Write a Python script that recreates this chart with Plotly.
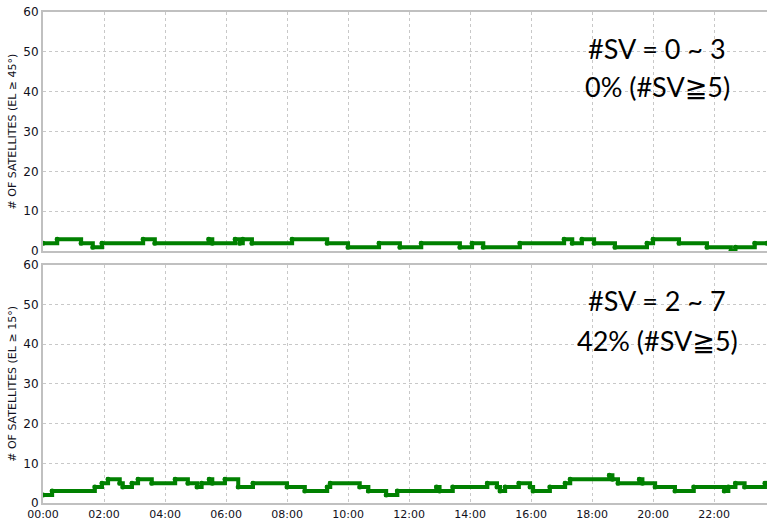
import plotly.graph_objects as go
from plotly.subplots import make_subplots

DAY = "2024-01-01 "

# Elevation >= 45 deg : change times and satellite counts (step series)
t45 = ["00:00", "00:28", "01:15", "01:38", "01:56", "03:17", "03:40", "05:26", "05:33",
       "06:18", "06:27", "06:33", "06:51", "08:10", "09:19", "10:00", "11:01", "11:42",
       "12:24", "13:40", "14:04", "14:26", "15:38", "17:05", "17:21", "17:40", "18:04",
       "18:45", "19:48", "20:00", "20:51", "21:46", "22:33", "22:42", "23:20", "23:44"]
sv45 = [2, 3, 2, 1, 2, 3, 2, 3, 2,
        3, 2, 3, 2, 3, 2, 1, 2, 1,
        2, 1, 2, 1, 2, 3, 2, 3, 2,
        1, 2, 3, 2, 1, 0, 1, 2, 2]

# Elevation >= 15 deg
t15 = ["00:00", "00:18", "01:42", "01:56", "02:08", "02:31", "02:37", "02:55", "03:07",
       "03:34", "04:20", "04:45", "05:03", "05:12", "05:27", "05:33", "05:58", "06:24",
       "06:53", "08:00", "08:35", "09:19", "09:25", "10:23", "10:40", "11:15", "11:37",
       "12:54", "13:00", "13:26", "14:34", "14:53", "14:59", "15:09", "15:36", "15:58",
       "16:04", "16:37", "17:07", "17:17", "18:34", "18:40", "18:51", "19:33", "19:39",
       "20:04", "20:43", "21:20", "22:20", "22:28", "22:42", "23:00", "23:40", "23:44"]
sv15 = [2, 3, 4, 5, 6, 5, 4, 5, 6,
        5, 6, 5, 4, 5, 6, 5, 6, 4,
        5, 4, 3, 4, 5, 4, 3, 2, 3,
        4, 3, 4, 5, 4, 3, 4, 5, 4,
        3, 4, 5, 6, 7, 6, 5, 6, 5,
        4, 3, 4, 3, 4, 5, 4, 5, 5]

x_ticks = ["00:00", "02:00", "04:00", "06:00", "08:00", "10:00",
           "12:00", "14:00", "16:00", "18:00", "20:00", "22:00"]
y_title_top = "# OF SATELLITES (EL \u2265 45\u00b0)"
y_title_bot = "# OF SATELLITES (EL \u2265 15\u00b0)"
ann_top = ["#SV = 0 ~ 3", "0% (#SV\u22675)"]
ann_bot = ["#SV = 2 ~ 7", "42% (#SV\u22675)"]

GREEN = "#008000"
GRID = "#c8c8c8"
TXT = "#101020"

fig = make_subplots(rows=2, cols=1, shared_xaxes=False, vertical_spacing=0.03)

for row, (tt, vv) in enumerate([(t45, sv45), (t15, sv15)], start=1):
    fig.add_trace(go.Scatter(
        x=[DAY + t for t in tt], y=vv, mode="lines+markers",
        line=dict(color=GREEN, width=4, shape="hv"),
        marker=dict(color=GREEN, size=5),
        showlegend=False, hoverinfo="skip"), row=row, col=1)

xr = [DAY + "00:00", DAY + "23:44"]
tickvals = [DAY + t for t in x_ticks]
for row in (1, 2):
    fig.update_xaxes(range=xr, tickvals=tickvals, ticktext=x_ticks,
                     showticklabels=(row == 2), automargin=False,
                     showgrid=True, gridcolor=GRID, griddash="3px,3px", gridwidth=1,
                     showline=True, linecolor="#c0c0c0", linewidth=2, mirror=True,
                     ticks="", zeroline=False,
                     tickfont=dict(family="DejaVu Sans", size=11, color=TXT),
                     row=row, col=1)
    fig.update_yaxes(range=[0, 60], dtick=10, automargin=False,
                     showgrid=True, gridcolor=GRID, griddash="3px,3px", gridwidth=1,
                     showline=True, linecolor="#c0c0c0", linewidth=2, mirror=True,
                     ticks="", zeroline=False,
                     tickfont=dict(family="DejaVu Sans", size=12, color=TXT),
                     title=dict(text=y_title_top if row == 1 else y_title_bot,
                                font=dict(family="DejaVu Sans", size=11, color=TXT),
                                standoff=4),
                     row=row, col=1)

fig.update_layout(
    width=767, height=521,
    margin=dict(l=43, r=0, t=12, b=18),
    paper_bgcolor="white", plot_bgcolor="white",
    xaxis=dict(domain=[0, 1]),
    yaxis=dict(domain=[0.513, 1.0]),
    yaxis2=dict(domain=[0.0, 0.485]),
)

H = 521 - 12 - 18
for lines, y0, y1 in [(ann_top, 48, 87), (ann_bot, 300, 340)]:
    for txt, yp in zip(lines, (y0, y1)):
        fig.add_annotation(text=txt, xref="paper", yref="paper",
                           x=(657 - 43) / 724, y=(521 - 18 - yp) / H,
                           showarrow=False, xanchor="center", yanchor="middle",
                           font=dict(family="Lato, DejaVu Sans", size=27, color="black"))

fig.write_html("out.html", config={"displayModeBar": False},
               post_script="document.body.style.margin='0px';document.body.style.overflow='hidden';")
